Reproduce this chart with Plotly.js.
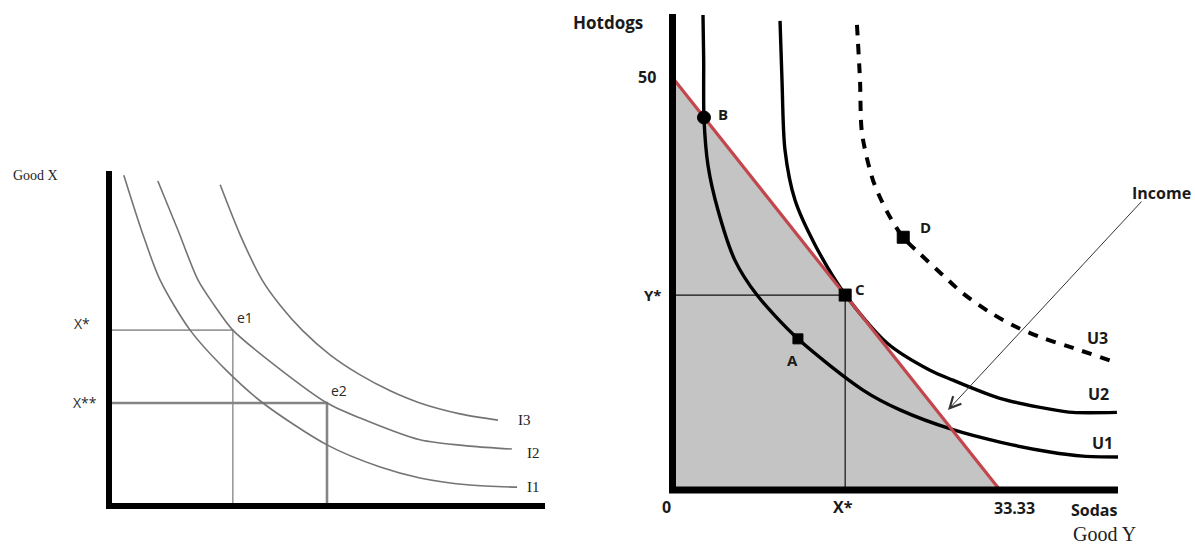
<!DOCTYPE html>
<html>
<head>
<meta charset="utf-8">
<script src="https://cdn.plot.ly/plotly-3.0.1.min.js"></script>
<style>
  html, body { margin: 0; padding: 0; background: #ffffff; }
  #chart { width: 1195px; height: 544px; }
</style>
</head>
<body>
<div id="chart"></div>
<script>
// ---- Left panel: three indifference curves (Good Y across, Good X up) ----
const i1X = [0.34, 0.76, 1.17, 1.86, 2.68, 3.53, 5.00, 6.22, 7.13, 8.28, 9.36];
const i1Y = [7.90, 6.54, 5.40, 4.20, 3.25, 2.46, 1.46, 0.93, 0.67, 0.50, 0.45];
const i2X = [1.12, 1.58, 2.04, 2.41, 2.84, 3.88, 5.00, 5.76, 7.13, 8.28, 9.24];
const i2Y = [7.76, 6.59, 5.40, 4.80, 4.20, 3.30, 2.46, 2.10, 1.58, 1.43, 1.36];
const i3X = [2.55, 3.01, 3.51, 3.92, 4.43, 5.07, 5.76, 6.45, 7.13, 8.05, 8.92];
const i3Y = [7.67, 6.47, 5.40, 4.80, 4.20, 3.61, 3.13, 2.75, 2.46, 2.20, 2.05];
// equilibria e1, e2
const eqLabels = ['e1', 'e2'];
const eqX = [2.84, 5.00];
const eqY = [4.20, 2.46];

// ---- Right panel: hotdogs vs sodas ----
const budgetSodas = [0, 33.33];
const budgetHotdogs = [50, 0];
const u1Sodas = [3.15, 3.22, 3.25, 3.66, 4.67, 6.40, 8.64, 12.80, 19.41, 23.17, 28.56, 33.33, 38.41, 41.77, 45.33];
const u1Hotdogs = [57.5, 52.1, 45.0, 39.3, 33.9, 27.8, 23.6, 18.3, 12.1, 9.7, 7.3, 5.8, 4.6, 4.1, 4.0];
const u2Sodas = [10.98, 11.18, 11.48, 12.50, 14.53, 17.58, 21.85, 26.22, 28.56, 33.33, 38.41, 40.75, 45.22];
const u2Hotdogs = [56.8, 49.6, 41.2, 35.1, 29.7, 23.7, 17.8, 14.5, 13.3, 11.1, 9.8, 9.4, 9.4];
const u3Sodas = [18.80, 19.11, 19.31, 20.43, 21.85, 23.48, 25.20, 27.54, 29.57, 32.32, 35.06, 37.70, 40.75, 44.72];
const u3Hotdogs = [56.3, 49.6, 43.2, 37.5, 33.7, 30.6, 28.6, 26.0, 23.8, 21.5, 19.7, 18.4, 17.2, 15.6];
const bundleLabels = ['A', 'B', 'C', 'D'];
const bundleSodas = [12.8, 3.25, 17.6, 23.5];
const bundleHotdogs = [18.3, 45.1, 23.6, 30.6];

// page geometry helpers (pixels -> paper fractions)
const W = 1195, H = 544;
const px = x => x / W;
const py = y => 1 - y / H;

const grayCurve = { color: '#747474', width: 1.6, shape: 'spline', smoothing: 0.8 };
const blackCurve = { color: '#000000', width: 3.4, shape: 'spline', smoothing: 0.8 };

const eStar = 0, eStar2 = 1;
const C = bundleLabels.indexOf('C');

const traces = [
  // left guides
  { x: [0, eqX[eStar], eqX[eStar]], y: [eqY[eStar], eqY[eStar], 0], xaxis: 'x', yaxis: 'y',
    mode: 'lines', line: { color: '#9a9a9a', width: 1.6 }, hoverinfo: 'skip' },
  { x: [0, eqX[eStar2], eqX[eStar2]], y: [eqY[eStar2], eqY[eStar2], 0], xaxis: 'x', yaxis: 'y',
    mode: 'lines', line: { color: '#858585', width: 2.6 }, hoverinfo: 'skip' },
  // left indifference curves
  { x: i1X, y: i1Y, xaxis: 'x', yaxis: 'y', mode: 'lines', line: grayCurve, hoverinfo: 'skip' },
  { x: i2X, y: i2Y, xaxis: 'x', yaxis: 'y', mode: 'lines', line: grayCurve, hoverinfo: 'skip' },
  { x: i3X, y: i3Y, xaxis: 'x', yaxis: 'y', mode: 'lines', line: grayCurve, hoverinfo: 'skip' },

  // right: affordable set under the budget line
  { x: [budgetSodas[0], budgetSodas[0], budgetSodas[1]], y: [0, budgetHotdogs[0], budgetHotdogs[1]],
    xaxis: 'x2', yaxis: 'y2', mode: 'lines', fill: 'toself', fillcolor: '#c4c4c4',
    line: { width: 0, color: 'rgba(0,0,0,0)' }, hoverinfo: 'skip' },
  // guides through C
  { x: [0, bundleSodas[C], bundleSodas[C]], y: [bundleHotdogs[C], bundleHotdogs[C], 0],
    xaxis: 'x2', yaxis: 'y2', mode: 'lines', line: { color: '#111', width: 1.2 }, hoverinfo: 'skip' },
  // utility curves
  { x: u1Sodas, y: u1Hotdogs, xaxis: 'x2', yaxis: 'y2', mode: 'lines', line: blackCurve, hoverinfo: 'skip' },
  { x: u2Sodas, y: u2Hotdogs, xaxis: 'x2', yaxis: 'y2', mode: 'lines', line: blackCurve, hoverinfo: 'skip' },
  { x: u3Sodas, y: u3Hotdogs, xaxis: 'x2', yaxis: 'y2', mode: 'lines',
    line: { color: '#000', width: 4, shape: 'spline', smoothing: 0.8, dash: '10px,9px' }, hoverinfo: 'skip' },
  // budget line
  { x: budgetSodas, y: budgetHotdogs, xaxis: 'x2', yaxis: 'y2', mode: 'lines',
    line: { color: '#c2464b', width: 3.2 }, hoverinfo: 'skip' },
  // bundles
  { x: bundleSodas, y: bundleHotdogs, xaxis: 'x2', yaxis: 'y2', mode: 'markers', cliponaxis: false,
    opacity: 1,
    marker: { color: '#000000', opacity: 1, symbol: ['square', 'circle', 'square', 'square'],
              size: [10, 13, 12, 12], line: { color: '#000000', width: 1 } },
    hoverinfo: 'skip' }
];

const shapes = [
  // left axes
  { type: 'line', xref: 'paper', yref: 'paper', x0: px(109), x1: px(109), y0: py(171), y1: py(509),
    line: { color: '#000', width: 6 } },
  { type: 'line', xref: 'paper', yref: 'paper', x0: px(106), x1: px(545), y0: py(506), y1: py(506),
    line: { color: '#000', width: 6 } },
  // right axes
  { type: 'line', xref: 'paper', yref: 'paper', x0: px(672.5), x1: px(672.5), y0: py(14), y1: py(493),
    line: { color: '#000', width: 7 } },
  { type: 'line', xref: 'paper', yref: 'paper', x0: px(669), x1: px(1118), y0: py(490), y1: py(490),
    line: { color: '#000', width: 7 } }
];

function label(text, x, y, font) {
  return { text: text, xref: 'paper', yref: 'paper', x: px(x), y: py(y),
           xanchor: 'center', yanchor: 'middle', showarrow: false, font: font };
}
const serifFont = s => ({ family: 'Liberation Serif, serif', size: s, color: '#222' });
const sansFont = s => ({ family: 'Open Sans, sans-serif', size: s, color: '#2a2a2a' });
const boldFont = s => ({ family: 'Open Sans, sans-serif', size: s, color: '#1a1a1a', weight: 'bold' });

const annotations = [
  label('Good X', 35, 175, serifFont(14)),
  label('X*', 82, 323, sansFont(14)),
  label('X**', 85, 402, sansFont(14)),
  label('I3', 524, 420, serifFont(15)),
  label('I2', 533, 453, serifFont(15)),
  label('I1', 533, 487, serifFont(15)),
  label('Hotdogs', 608, 23, boldFont(17)),
  label('50', 647, 77, boldFont(16)),
  label('Y*', 653, 295, boldFont(15)),
  label('0', 666, 507, boldFont(16)),
  label('X*', 843, 507, boldFont(16)),
  label('33.33', 1014, 508, boldFont(16)),
  label('Sodas', 1094, 510, boldFont(16)),
  label('Good Y', 1104, 534, serifFont(20)),
  label('U3', 1097, 338, boldFont(16)),
  label('U2', 1098, 394, boldFont(16)),
  label('U1', 1102, 443, boldFont(16)),
  label('Income', 1161, 193, boldFont(16)),
  // arrow from the income label down to the budget line
  { xref: 'x2', yref: 'y2', x: 28.05, y: 9.69, ax: 195, ay: -210, text: '', showarrow: true,
    arrowhead: 5, arrowsize: 2.2, arrowwidth: 1, arrowcolor: '#333', standoff: 0 }
];

// equilibrium labels e1 / e2 sit just up-right of their points
eqLabels.forEach((t, i) => annotations.push({
  text: t, xref: 'x', yref: 'y', x: eqX[i], y: eqY[i], xanchor: 'left', yanchor: 'bottom',
  xshift: 2, yshift: 1, showarrow: false, font: sansFont(14)
}));
// bundle letters
const bundleOffsets = { A: [-5, -21], B: [19, 3], C: [15, 6], D: [22, 10] };
bundleLabels.forEach((t, i) => annotations.push({
  text: t, xref: 'x2', yref: 'y2', x: bundleSodas[i], y: bundleHotdogs[i],
  xanchor: 'center', yanchor: 'middle', xshift: bundleOffsets[t][0], yshift: bundleOffsets[t][1],
  showarrow: false, font: boldFont(15)
}));

const hidden = { visible: false, fixedrange: true, showgrid: false, zeroline: false };
const layout = {
  width: W, height: H, autosize: false,
  margin: { l: 0, r: 0, t: 0, b: 0, pad: 0 },
  paper_bgcolor: '#ffffff', plot_bgcolor: 'rgba(0,0,0,0)',
  showlegend: false,
  xaxis: Object.assign({ domain: [px(109), px(545)], range: [0, 10], anchor: 'y' }, hidden),
  yaxis: Object.assign({ domain: [py(506), py(171)], range: [0, 8], anchor: 'x' }, hidden),
  xaxis2: Object.assign({ domain: [px(672), px(1118)], range: [0, 45.33], anchor: 'y2' }, hidden),
  yaxis2: Object.assign({ domain: [py(490), py(14)], range: [0, 57.63], anchor: 'x2' }, hidden),
  shapes: shapes,
  annotations: annotations
};

Plotly.newPlot('chart', traces, layout, { staticPlot: true, displayModeBar: false });
</script>
</body>
</html>
